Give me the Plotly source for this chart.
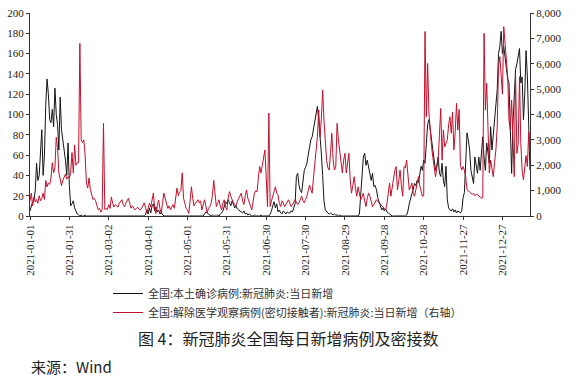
import plotly.graph_objects as go
import pandas as pd

start_date = "2021-01-01"

# 全国:本土确诊病例:新冠肺炎:当日新增 (left axis), daily from 2021-01-01
confirmed_local = [
    5, 10, 14, 16, 25, 52, 35, 40, 60, 85,
    40, 60, 110, 135, 120, 95, 92, 105, 88, 126,
    100, 90, 65, 117, 85, 75, 68, 55, 40, 72,
    30, 10, 12, 15, 8, 4, 2, 1, 0, 1,
    0, 0, 1, 0, 0, 0, 0, 0, 0, 0,
    0, 0, 0, 0, 0, 0, 0, 0, 0, 0,
    0, 0, 0, 0, 0, 0, 0, 0, 0, 0,
    0, 0, 0, 0, 0, 0, 0, 0, 0, 0,
    0, 0, 0, 0, 0, 0, 0, 0, 1, 6,
    2, 8, 3, 10, 12, 5, 9, 4, 6, 2,
    3, 1, 0, 0, 0, 0, 0, 0, 0, 0,
    0, 0, 0, 0, 0, 0, 0, 0, 0, 0,
    0, 0, 0, 0, 0, 0, 0, 0, 0, 0,
    0, 0, 0, 2, 4, 3, 2, 1, 0, 1,
    0, 0, 0, 1, 0, 2, 3, 5, 10, 14,
    12, 16, 13, 10, 15, 12, 8, 10, 7, 6,
    5, 4, 3, 5, 2, 3, 1, 2, 1, 0,
    0, 1, 0, 0, 0, 0, 1, 0, 0, 0,
    0, 0, 0, 2, 5, 10, 14, 8, 12, 4,
    6, 3, 2, 5, 3, 2, 4, 3, 3, 5,
    4, 8, 12, 39, 42, 30, 25, 23, 35, 45,
    48, 52, 60, 70, 75, 78, 85, 90, 98, 108,
    95, 80, 62, 40, 15, 6, 4, 3, 2, 3,
    2, 1, 2, 1, 1, 0, 1, 0, 0, 0,
    0, 0, 0, 0, 0, 0, 0, 0, 0, 0,
    0, 2, 20, 45, 58, 62, 50, 55, 48, 45,
    35, 42, 29, 30, 26, 18, 14, 10, 6, 8,
    5, 7, 4, 3, 2, 1, 0, 0, 0, 0,
    0, 0, 0, 0, 0, 0, 0, 1, 5, 12,
    19, 22, 26, 32, 30, 35, 33, 40, 49, 45,
    55, 52, 75, 90, 95, 85, 70, 65, 55, 45,
    50, 58, 42, 39, 52, 35, 29, 49, 16, 8,
    6, 5, 7, 4, 6, 3, 5, 4, 3, 5,
    18, 23, 60, 82, 75, 65, 45, 38, 32, 58,
    49, 42, 58, 45, 62, 78, 58, 45, 72, 60,
    52, 88, 65, 80, 95, 110, 124, 160, 167, 182,
    160, 167, 155, 144, 135, 131, 75, 42, 90, 121,
    144, 150, 158, 165, 131, 137, 95, 120, 163, 137,
    90, 45,
]

# 全国:解除医学观察病例(密切接触者):新冠肺炎:当日新增 (right axis), daily from 2021-01-01
released_contacts = [
    600, 900, 400, 750, 550, 650, 500, 800, 600, 700,
    900, 650, 1400, 1150, 1300, 1250, 1500, 2100, 1700, 1900,
    3100, 2700, 1700, 1450, 1200, 1400, 1550, 1650, 1450, 1550,
    1500, 1700, 2500, 1700, 2800, 2000, 2100, 2100, 6800, 3000,
    2900, 3000, 2400, 1300, 1100, 1500, 1050, 800, 650, 700,
    600, 400, 250, 300, 150, 250, 3650, 250, 300, 250,
    450, 300, 750, 500, 350, 450, 400, 350, 500, 600,
    640, 450, 370, 500, 600, 700, 500, 310, 400, 300,
    240, 300, 350, 280, 240, 300, 400, 520, 350, 120,
    300, 500, 350, 600, 900, 300, 100, 400, 630, 300,
    120, 500, 900, 700, 500, 300, 400, 240, 350, 450,
    300, 700, 1100, 800, 960, 1000, 1700, 700, 520, 300,
    240, 100, 600, 1150, 700, 400, 500, 560, 640, 520,
    600, 240, 500, 640, 400, 120, 300, 370, 500, 800,
    1400, 700, 370, 500, 640, 400, 240, 500, 640, 350,
    240, 700, 960, 780, 600, 520, 450, 400, 580, 700,
    800, 900, 600, 450, 800, 1030, 700, 500, 400, 240,
    700, 900, 1000, 950, 1500, 1950, 1700, 2000, 2200, 2600,
    1500, 370, 4050, 370, 600, 780, 1000, 1150, 900, 830,
    500, 370, 600, 520, 370, 500, 550, 640, 500, 370,
    450, 550, 640, 550, 450, 520, 650, 780, 600, 520,
    650, 780, 1000, 1220, 1050, 900, 1500, 2140, 2600, 3120,
    4180, 3120, 3800, 4960, 3780, 3000, 2200, 1900, 1810, 2500,
    3260, 2200, 1810, 1950, 3650, 3000, 2600, 2100, 1700, 2200,
    2470, 1700, 2100, 2470, 1420, 900, 1200, 1550, 1100, 780,
    1150, 900, 640, 750, 900, 600, 370, 700, 900, 780,
    550, 370, 450, 550, 640, 580, 520, 450, 400, 370,
    300, 240, 500, 830, 1300, 780, 1100, 1550, 1800, 1950,
    1030, 1400, 1810, 1200, 780, 1950, 1900, 2200, 1500, 1030,
    1150, 1300, 900, 780, 1030, 1300, 1550, 1200, 1030, 780,
    800, 7270, 3910, 6010, 4050, 3300, 2730, 2300, 1940, 1550,
    1900, 2200, 3200, 4240, 2200, 3390, 2730, 2900, 3000, 3600,
    3910, 3260, 4100, 2600, 3300, 4440, 3390, 4200, 2000, 1810,
    1950, 1800, 1550, 1030, 1000, 950, 900, 850, 900, 800,
    850, 850, 780, 760, 700, 720, 7200, 4180, 5230, 2860,
    1700, 2200, 1900, 1550, 2100, 2600, 3500, 5880, 6280, 5500,
    4800, 7460, 6800, 6000, 5490, 3780, 3390, 4570, 2600, 1550,
    5560, 2470, 2860, 5490, 2860, 1810, 1420, 1800, 2380, 1950,
    3300, 2500,
]

x_tick_labels = ["2021-01-01", "2021-01-31", "2021-03-02", "2021-04-01",
                 "2021-05-01", "2021-05-31", "2021-06-30", "2021-07-30",
                 "2021-08-29", "2021-09-28", "2021-10-28", "2021-11-27",
                 "2021-12-27"]
left_ticks = [0, 20, 40, 60, 80, 100, 120, 140, 160, 180, 200]
right_ticks = [0, 1000, 2000, 3000, 4000, 5000, 6000, 7000, 8000]

name_black = "全国:本土确诊病例:新冠肺炎:当日新增"
name_red = "全国:解除医学观察病例(密切接触者):新冠肺炎:当日新增（右轴）"
caption = "图 4：新冠肺炎全国每日新增病例及密接数"
source = "来源：Wind"

dates_black = pd.date_range(start_date, periods=len(confirmed_local), freq="D")
dates_red = pd.date_range(start_date, periods=len(released_contacts), freq="D")

W, H = 576, 381
L, R, T, B = 30, 46, 13, 165
PW, PH = W - L - R, H - T - B


def px_x(px):
    return (px - L) / PW


def px_y(py):
    return (H - B - py) / PH


fig = go.Figure()
fig.add_trace(go.Scatter(x=dates_black, y=confirmed_local, mode="lines", name=name_black,
                         line=dict(color="#141414", width=1)))
fig.add_trace(go.Scatter(x=dates_red, y=released_contacts, mode="lines", name=name_red,
                         line=dict(color="#c3102c", width=1), yaxis="y2"))

tick_font = dict(family="Liberation Serif, Times New Roman, serif", size=11, color="#1a1a1a")
end_date = max(dates_black[-1], dates_red[-1])

fig.update_layout(
    width=W, height=H,
    margin=dict(l=L, r=R, t=T, b=B, pad=0, autoexpand=False),
    paper_bgcolor="white", plot_bgcolor="white",
    showlegend=True,
    xaxis=dict(type="date", range=[dates_black[0], end_date],
               tickmode="array", tickvals=x_tick_labels, ticktext=x_tick_labels,
               tickangle=-90, ticks="outside", ticklen=3, tickcolor="#333",
               showline=True, linecolor="#333", linewidth=1,
               showgrid=False, zeroline=False, tickfont=tick_font),
    yaxis=dict(range=[0, 200], tickmode="array", tickvals=left_ticks,
               ticks="outside", ticklen=3, tickcolor="#333",
               showline=True, linecolor="#333", linewidth=1,
               showgrid=False, zeroline=False, tickfont=tick_font),
    yaxis2=dict(range=[0, 8000], tickmode="array", tickvals=right_ticks,
                tickformat=",", overlaying="y", side="right",
                ticks="outside", ticklen=3, tickcolor="#333",
                showline=True, linecolor="#333", linewidth=1,
                showgrid=False, zeroline=False, tickfont=tick_font),
    legend=dict(xref="paper", yref="paper", x=px_x(108), y=px_y(279),
                xanchor="left", yanchor="top", orientation="v",
                font=dict(family="Noto Sans CJK SC", size=11, color="#333"),
                bgcolor="rgba(0,0,0,0)", borderwidth=0, itemwidth=30, tracegroupgap=0),
    annotations=[
        dict(text=caption, xref="paper", yref="paper",
             x=px_x(288), y=px_y(338),
             xanchor="center", yanchor="middle", showarrow=False,
             font=dict(family="Noto Sans CJK SC", size=16, color="#222")),
        dict(text=source, xref="paper", yref="paper",
             x=px_x(29), y=px_y(366),
             xanchor="left", yanchor="middle", showarrow=False,
             font=dict(family="Noto Sans CJK SC", size=15, color="#222")),
    ],
)

fig.write_html("out.html", config={"displayModeBar": False},
               post_script="document.body.style.margin='0';document.body.style.overflow='hidden';")
